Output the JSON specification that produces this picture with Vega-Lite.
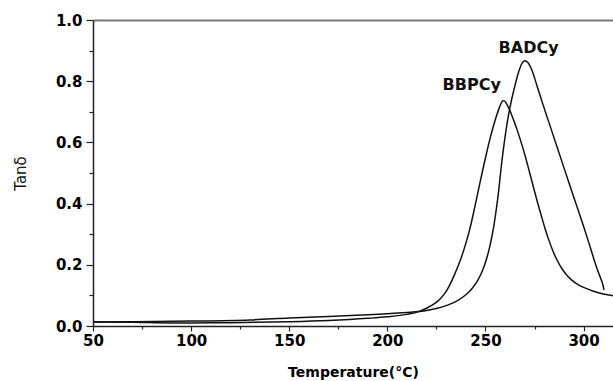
{
  "$schema": "https://vega.github.io/schema/vega-lite/v6.json",
  "width": 520,
  "height": 306,
  "autosize": "none",
  "padding": {"left": 93, "top": 20, "right": 0, "bottom": 55},
  "background": "white",
  "config": {"view": {"stroke": null}, "axis": {"grid": false, "labelFont": "DejaVu Sans", "titleFont": "DejaVu Sans", "labelColor": "black", "titleColor": "black", "domainColor": "#222", "tickColor": "#222", "labelFlush": false}},
  "datasets": {
    "curves": [
      {"series": "BBPCy", "T": 50, "v": 0.013},
      {"series": "BBPCy", "T": 70, "v": 0.012},
      {"series": "BBPCy", "T": 90, "v": 0.010},
      {"series": "BBPCy", "T": 100, "v": 0.010},
      {"series": "BBPCy", "T": 120, "v": 0.011},
      {"series": "BBPCy", "T": 150, "v": 0.014},
      {"series": "BBPCy", "T": 170, "v": 0.018},
      {"series": "BBPCy", "T": 190, "v": 0.025},
      {"series": "BBPCy", "T": 200, "v": 0.030},
      {"series": "BBPCy", "T": 210, "v": 0.038},
      {"series": "BBPCy", "T": 216, "v": 0.047},
      {"series": "BBPCy", "T": 220, "v": 0.058},
      {"series": "BBPCy", "T": 224, "v": 0.073},
      {"series": "BBPCy", "T": 226.5, "v": 0.086},
      {"series": "BBPCy", "T": 229, "v": 0.104},
      {"series": "BBPCy", "T": 231.3, "v": 0.128},
      {"series": "BBPCy", "T": 234.5, "v": 0.172},
      {"series": "BBPCy", "T": 237.6, "v": 0.222},
      {"series": "BBPCy", "T": 240, "v": 0.270},
      {"series": "BBPCy", "T": 242.3, "v": 0.324},
      {"series": "BBPCy", "T": 244.2, "v": 0.378},
      {"series": "BBPCy", "T": 246, "v": 0.432},
      {"series": "BBPCy", "T": 247.6, "v": 0.480},
      {"series": "BBPCy", "T": 249.2, "v": 0.527},
      {"series": "BBPCy", "T": 250.8, "v": 0.572},
      {"series": "BBPCy", "T": 252.4, "v": 0.614},
      {"series": "BBPCy", "T": 254, "v": 0.652},
      {"series": "BBPCy", "T": 255.6, "v": 0.686},
      {"series": "BBPCy", "T": 257, "v": 0.712},
      {"series": "BBPCy", "T": 258, "v": 0.728},
      {"series": "BBPCy", "T": 258.9, "v": 0.736},
      {"series": "BBPCy", "T": 259.8, "v": 0.735},
      {"series": "BBPCy", "T": 260.8, "v": 0.726},
      {"series": "BBPCy", "T": 262.4, "v": 0.705},
      {"series": "BBPCy", "T": 264.4, "v": 0.672},
      {"series": "BBPCy", "T": 266.4, "v": 0.636},
      {"series": "BBPCy", "T": 268.4, "v": 0.596},
      {"series": "BBPCy", "T": 270.4, "v": 0.552},
      {"series": "BBPCy", "T": 272.4, "v": 0.504},
      {"series": "BBPCy", "T": 274.4, "v": 0.455},
      {"series": "BBPCy", "T": 276.4, "v": 0.407},
      {"series": "BBPCy", "T": 278.4, "v": 0.362},
      {"series": "BBPCy", "T": 280.4, "v": 0.318},
      {"series": "BBPCy", "T": 282.4, "v": 0.279},
      {"series": "BBPCy", "T": 284.4, "v": 0.245},
      {"series": "BBPCy", "T": 286.6, "v": 0.214},
      {"series": "BBPCy", "T": 289, "v": 0.187},
      {"series": "BBPCy", "T": 291.5, "v": 0.166},
      {"series": "BBPCy", "T": 294, "v": 0.150},
      {"series": "BBPCy", "T": 297, "v": 0.136},
      {"series": "BBPCy", "T": 300, "v": 0.126},
      {"series": "BBPCy", "T": 304, "v": 0.116},
      {"series": "BBPCy", "T": 309, "v": 0.106},
      {"series": "BBPCy", "T": 315, "v": 0.099},
      {"series": "BADCy", "T": 50, "v": 0.013},
      {"series": "BADCy", "T": 70, "v": 0.014},
      {"series": "BADCy", "T": 100, "v": 0.016},
      {"series": "BADCy", "T": 130, "v": 0.020},
      {"series": "BADCy", "T": 150, "v": 0.026},
      {"series": "BADCy", "T": 170, "v": 0.031},
      {"series": "BADCy", "T": 190, "v": 0.037},
      {"series": "BADCy", "T": 200, "v": 0.040},
      {"series": "BADCy", "T": 210, "v": 0.044},
      {"series": "BADCy", "T": 216, "v": 0.047},
      {"series": "BADCy", "T": 220, "v": 0.051},
      {"series": "BADCy", "T": 225.4, "v": 0.058},
      {"series": "BADCy", "T": 231, "v": 0.069},
      {"series": "BADCy", "T": 236, "v": 0.084},
      {"series": "BADCy", "T": 240, "v": 0.102},
      {"series": "BADCy", "T": 243, "v": 0.121},
      {"series": "BADCy", "T": 246, "v": 0.148},
      {"series": "BADCy", "T": 248, "v": 0.174},
      {"series": "BADCy", "T": 249.6, "v": 0.200},
      {"series": "BADCy", "T": 250.9, "v": 0.227},
      {"series": "BADCy", "T": 252.1, "v": 0.257},
      {"series": "BADCy", "T": 253.2, "v": 0.290},
      {"series": "BADCy", "T": 254.2, "v": 0.324},
      {"series": "BADCy", "T": 255.5, "v": 0.38},
      {"series": "BADCy", "T": 256.6, "v": 0.434},
      {"series": "BADCy", "T": 257.5, "v": 0.488},
      {"series": "BADCy", "T": 258.4, "v": 0.540},
      {"series": "BADCy", "T": 259.6, "v": 0.600},
      {"series": "BADCy", "T": 261.3, "v": 0.673},
      {"series": "BADCy", "T": 263, "v": 0.730},
      {"series": "BADCy", "T": 264.9, "v": 0.782},
      {"series": "BADCy", "T": 266.9, "v": 0.830},
      {"series": "BADCy", "T": 268.5, "v": 0.857},
      {"series": "BADCy", "T": 270, "v": 0.867},
      {"series": "BADCy", "T": 271.6, "v": 0.861},
      {"series": "BADCy", "T": 273.8, "v": 0.834},
      {"series": "BADCy", "T": 276.4, "v": 0.782},
      {"series": "BADCy", "T": 279, "v": 0.730},
      {"series": "BADCy", "T": 282, "v": 0.672},
      {"series": "BADCy", "T": 285, "v": 0.614},
      {"series": "BADCy", "T": 288, "v": 0.556},
      {"series": "BADCy", "T": 291, "v": 0.498},
      {"series": "BADCy", "T": 294, "v": 0.440},
      {"series": "BADCy", "T": 297, "v": 0.383},
      {"series": "BADCy", "T": 300, "v": 0.326},
      {"series": "BADCy", "T": 302.8, "v": 0.270},
      {"series": "BADCy", "T": 305.4, "v": 0.216},
      {"series": "BADCy", "T": 307.4, "v": 0.178},
      {"series": "BADCy", "T": 308.6, "v": 0.158},
      {"series": "BADCy", "T": 309.3, "v": 0.146},
      {"series": "BADCy", "T": 309.9, "v": 0.134},
      {"series": "BADCy", "T": 310.4, "v": 0.118}
    ],
    "labels": [
      {"name": "BADCy", "T": 272, "v": 0.91},
      {"name": "BBPCy", "T": 243, "v": 0.788}
    ]
  },
  "layer": [
    {
      "data": {"name": "curves"},
      "mark": {"type": "line", "color": "#111", "strokeWidth": 1.5, "clip": true, "interpolate": "monotone"},
      "encoding": {
        "x": {"field": "T", "type": "quantitative", "scale": {"domain": [50, 315], "nice": false, "zero": false},
          "axis": {"orient": "bottom", "values": [50, 100, 150, 200, 250, 300], "labelFontSize": 15, "labelFontWeight": "bold", "labelPadding": 2, "tickSize": 5, "tickWidth": 1.2, "domainWidth": 1.5, "title": "Temperature(°C)", "titleFontSize": 14, "titleFontWeight": "bold", "titlePadding": 17}},
        "y": {"field": "v", "type": "quantitative", "scale": {"domain": [0, 1], "nice": false},
          "axis": {"orient": "left", "values": [0, 0.2, 0.4, 0.6, 0.8, 1.0], "format": ".1f", "labelFontSize": 15, "labelFontWeight": "bold", "labelPadding": 4, "tickSize": 7, "tickWidth": 1.2, "domainWidth": 1.5, "title": "Tanδ", "titleFontSize": 15, "titleFontWeight": "normal", "titleColor": "#111", "titlePadding": 27}},
        "detail": {"field": "series", "type": "nominal"}
      }
    },
    {
      "data": {"name": "labels"},
      "mark": {"type": "text", "font": "DejaVu Sans", "fontWeight": "bold", "fontSize": 16, "color": "#111", "align": "center", "baseline": "middle"},
      "encoding": {
        "x": {"field": "T", "type": "quantitative",
          "axis": {"orient": "bottom", "values": [75, 125, 175, 225, 275], "labels": false, "domain": false, "tickSize": 3, "tickWidth": 1.2, "title": null}},
        "y": {"field": "v", "type": "quantitative",
          "axis": {"orient": "left", "values": [0.1, 0.3, 0.5, 0.7, 0.9], "labels": false, "domain": false, "tickSize": 4, "tickWidth": 1.2, "title": null}},
        "text": {"field": "name", "type": "nominal"}
      }
    },
    {
      "data": {"name": "labels"},
      "mark": {"type": "point", "opacity": 0},
      "encoding": {
        "x": {"field": "T", "type": "quantitative",
          "axis": {"orient": "top", "labels": false, "ticks": false, "domain": true, "domainColor": "#777", "domainWidth": 2, "title": null}},
        "y": {"field": "v", "type": "quantitative", "axis": null}
      }
    }
  ],
  "resolve": {"axis": {"x": "independent", "y": "independent"}}
}
